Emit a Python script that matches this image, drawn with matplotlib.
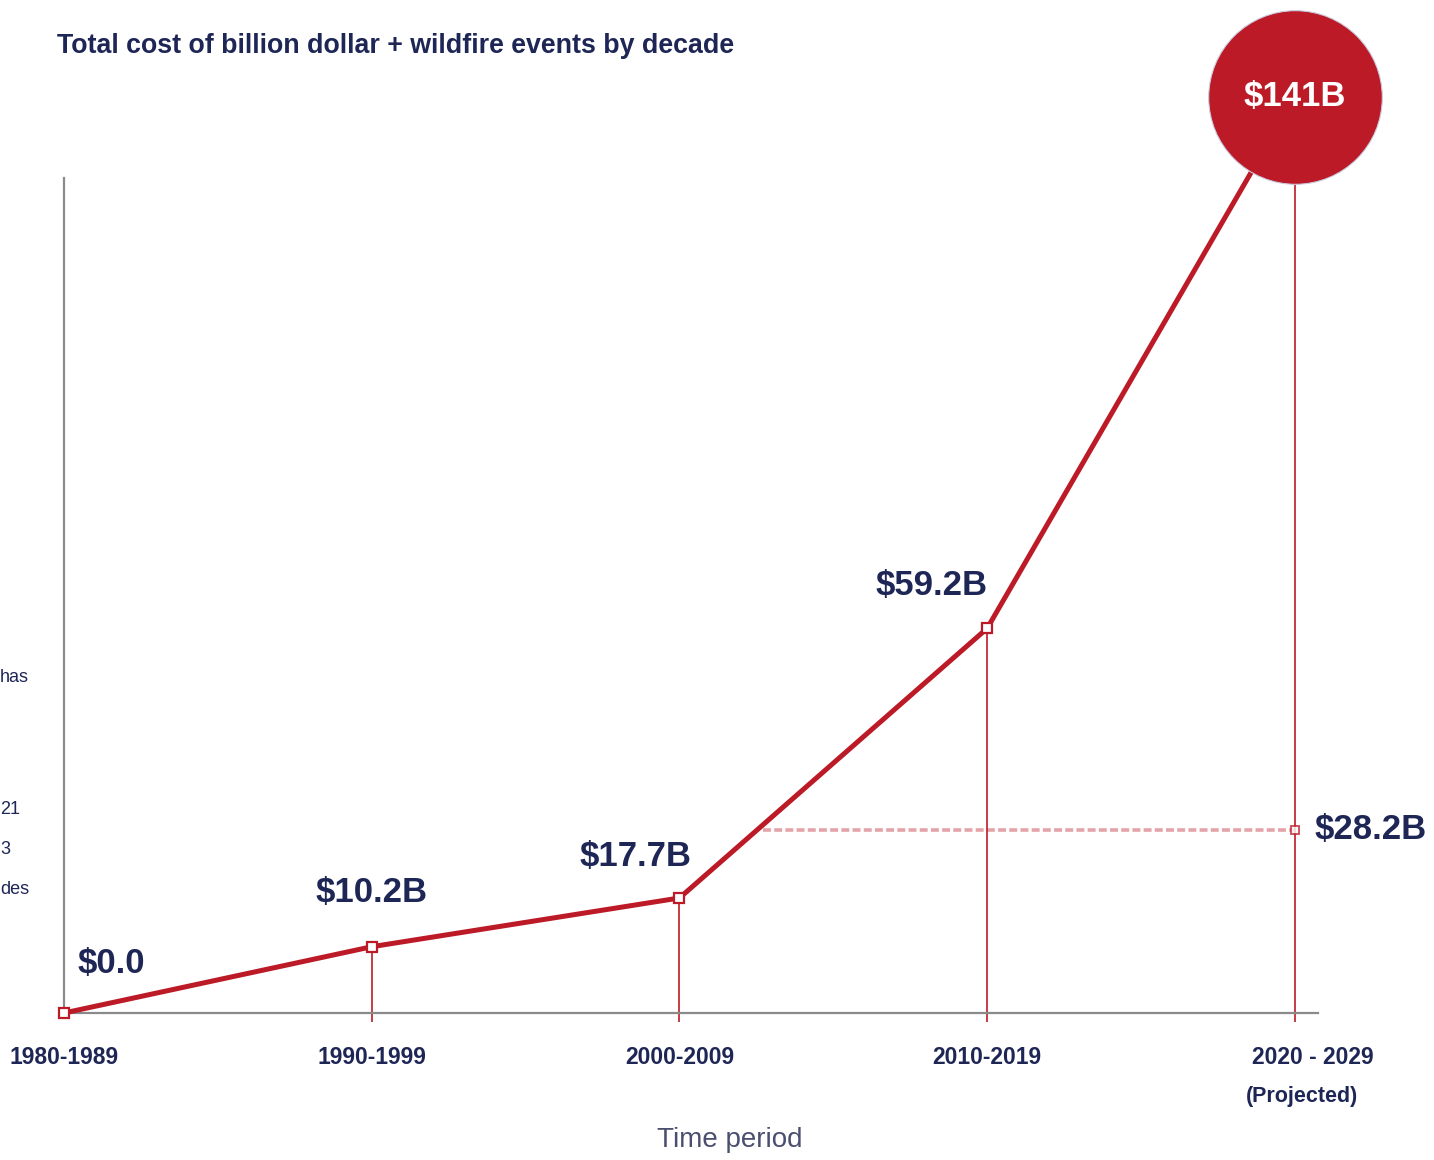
import matplotlib
matplotlib.use("Agg")
import matplotlib.pyplot as plt
import matplotlib.transforms as mtransforms

plt.rcParams.update({
    "font.family": ["Liberation Sans", "DejaVu Sans"],
})

# ---- data ----
decades = ["1980-1989", "1990-1999", "2000-2009", "2010-2019", "2020 - 2029"]
cost_b = [0.0, 10.2, 17.7, 59.2, 141.0]
cost_labels = ["$0.0", "$10.2B", "$17.7B", "$59.2B", "$141B"]
avg_cost = 28.2
avg_label = "$28.2B"
avg_start = 2.27  # where the dashed reference line starts (in decade index units)

RED = "#bc1a26"
NAVY = "#1e2656"
GREY = "#8a8a8a"

fig = plt.figure(figsize=(14.34, 11.6), dpi=100)
ax = fig.add_axes([64 / 1434, 147 / 1160, 1254 / 1434, 835 / 1160])
ax.set_xlim(0, 4.075)
ax.set_ylim(0, 128.5)

x = list(range(len(cost_b)))

# spines
for s in ("top", "right"):
    ax.spines[s].set_visible(False)
for s in ("left", "bottom"):
    ax.spines[s].set_color(GREY)
    ax.spines[s].set_linewidth(1.6)

# drop lines from each point to the axis
ax.vlines(x[1:], -1.4, cost_b[1:], color=RED, lw=1.2, clip_on=False, zorder=2)

# average reference line
ax.plot([avg_start, x[-1]], [avg_cost, avg_cost], color=RED, alpha=0.4, lw=2.6,
        ls=(0, (2.2, 0.9)), zorder=2)
ax.plot([x[-1]], [avg_cost], marker="s", ms=6, mfc="white", mec=RED, mew=1.3,
        alpha=0.8, zorder=3, clip_on=False)
ax.annotate(avg_label, (x[-1], avg_cost), xytext=(14, 0), textcoords="offset points",
            ha="left", va="center", fontsize=25, fontweight="bold", color=NAVY,
            annotation_clip=False)

# main line
ax.plot(x, cost_b, color=RED, lw=3.6, zorder=4, clip_on=False)
ax.plot(x[:-1], cost_b[:-1], ls="none", marker="s", ms=7, mfc="white", mec=RED,
        mew=1.6, zorder=5, clip_on=False)

# big bubble for projection
ax.plot([x[-1]], [cost_b[-1]], marker="o", ms=125, color=RED, mec="#c9ccdf",
        mew=0.8, zorder=6, clip_on=False)
ax.annotate(cost_labels[-1], (x[-1], cost_b[-1]), ha="center", va="center",
            fontsize=25, fontweight="bold", color="white", zorder=7,
            annotation_clip=False)

# value labels
offsets = [(34, 36), (0, 39), (-32, 30), (-40, 31)]
for xi, yi, lab, off in zip(x[:-1], cost_b[:-1], cost_labels[:-1], offsets):
    ax.annotate(lab, (xi, yi), xytext=off, textcoords="offset points",
                ha="center", va="center", fontsize=25, fontweight="bold",
                color=NAVY, zorder=7, annotation_clip=False)

# x ticks
ax.set_xticks(x)
ax.set_xticklabels(decades, fontsize=16.5, fontweight="bold", color=NAVY)
ax.tick_params(axis="x", length=0, pad=24)
ax.set_yticks([])
last = ax.get_xticklabels()[-1]
last.set_transform(last.get_transform() + mtransforms.ScaledTranslation(18 / 100, 0, fig.dpi_scale_trans))
ax.annotate("(Projected)", (x[-1], 0), xytext=(5, -60), textcoords="offset points",
            ha="center", va="center", fontsize=15.5, fontweight="bold", color=NAVY,
            annotation_clip=False)

fig.text(730 / 1434, 1 - 1140 / 1160, "Time period", fontsize=20, color="#4a4f70",
         ha="center", va="center")

fig.text(57 / 1434, 1 - 46 / 1160, "Total cost of billion dollar + wildfire events by decade",
         fontsize=19.3, fontweight="bold", color=NAVY, ha="left", va="center")

# cropped fragments of neighbouring page text on the left edge
for txt, ypx in [("has", 677), ("21", 810), ("3", 850), ("des", 889)]:
    fig.text(0.0, 1 - ypx / 1160, txt, fontsize=13, color=NAVY, ha="left", va="center")

fig.savefig("out.png", dpi=100)
